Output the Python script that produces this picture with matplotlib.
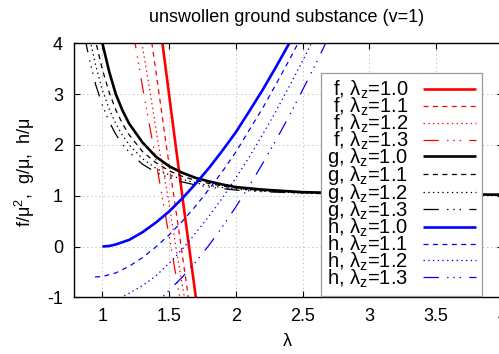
import matplotlib
matplotlib.use("Agg")
import matplotlib.pyplot as plt

# f / mu^2 curves (red)
f10_lam = [1.44, 1.45, 1.532, 1.62, 1.70, 1.71]
f10_val = [4.2, 4.0, 2.33, 0.57, -1.0, -1.2]
f11_lam = [1.36, 1.425, 1.478, 1.535, 1.59, 1.655]
f11_val = [4.2, 3.0, 2.0, 1.0, 0.0, -1.2]
f12_lam = [1.283, 1.36, 1.42, 1.49, 1.55, 1.627]
f12_val = [4.2, 3.0, 2.0, 1.0, 0.0, -1.2]
f13_lam = [1.232, 1.31, 1.38, 1.46, 1.52, 1.593]
f13_val = [4.2, 3.0, 2.0, 0.8, -0.1, -1.2]

# g / mu curves (black)
g10_lam = [0.99, 1.0, 1.05, 1.1, 1.15, 1.2, 1.3, 1.4, 1.5, 1.6, 1.7, 1.8, 1.9, 2.0, 2.2, 2.5, 3.0, 3.5, 4.0]
g10_val = [4.15, 4.0, 3.45, 3.0, 2.68, 2.42, 2.05, 1.77, 1.58, 1.45, 1.35, 1.28, 1.22, 1.17, 1.12, 1.07, 1.04, 1.03, 1.02]
g11_lam = [0.945, 0.953, 1.0, 1.05, 1.1, 1.15, 1.2, 1.3, 1.4, 1.5, 1.6, 1.7, 1.8, 1.9, 2.0, 2.2, 2.5, 3.0, 3.5, 4.0]
g11_val = [4.15, 4.0, 3.48, 3.04, 2.69, 2.42, 2.20, 1.87, 1.65, 1.49, 1.38, 1.30, 1.24, 1.19, 1.15, 1.10, 1.06, 1.03, 1.02, 1.01]
g12_lam = [0.905, 0.913, 0.95, 1.0, 1.05, 1.1, 1.15, 1.2, 1.3, 1.4, 1.5, 1.6, 1.7, 1.8, 1.9, 2.0, 2.2, 2.5, 3.0, 3.5, 4.0]
g12_val = [4.15, 4.0, 3.56, 3.08, 2.71, 2.42, 2.19, 2.00, 1.73, 1.54, 1.41, 1.32, 1.25, 1.20, 1.16, 1.13, 1.09, 1.05, 1.03, 1.01, 1.01]
g13_lam = [0.87, 0.877, 0.9, 0.95, 1.0, 1.05, 1.1, 1.15, 1.2, 1.3, 1.4, 1.5, 1.6, 1.7, 1.8, 1.9, 2.0, 2.2, 2.5, 3.0, 3.5, 4.0]
g13_val = [4.12, 4.0, 3.71, 3.18, 2.78, 2.46, 2.21, 2.01, 1.86, 1.62, 1.46, 1.35, 1.27, 1.21, 1.17, 1.14, 1.11, 1.08, 1.05, 1.02, 1.01, 1.01]

# h / mu curves (blue)
h10_lam = [1.0, 1.05, 1.1, 1.2, 1.3, 1.4, 1.5, 1.6, 1.7, 1.8, 1.9, 2.0, 2.1, 2.2, 2.3, 2.4, 2.5]
h10_val = [0.0, 0.01, 0.04, 0.13, 0.28, 0.47, 0.69, 0.95, 1.24, 1.55, 1.89, 2.25, 2.66, 3.08, 3.53, 4.0, 4.5]
h11_lam = [0.945, 1.0, 1.1, 1.2, 1.3, 1.4, 1.5, 1.6, 1.7, 1.8, 1.9, 2.0, 2.1, 2.2, 2.3, 2.4, 2.5]
h11_val = [-0.60, -0.59, -0.52, -0.39, -0.22, -0.01, 0.23, 0.50, 0.80, 1.13, 1.48, 1.86, 2.29, 2.72, 3.19, 3.67, 4.17]
h12_lam = [1.0, 1.1, 1.2, 1.3, 1.4, 1.5, 1.6, 1.7, 1.8, 1.9, 2.0, 2.1, 2.2, 2.3, 2.4, 2.5, 2.6]
h12_val = [-1.15, -1.06, -0.92, -0.77, -0.58, -0.33, -0.05, 0.27, 0.60, 0.96, 1.35, 1.76, 2.20, 2.66, 3.15, 3.65, 4.18]
h13_lam = [1.3, 1.4, 1.5, 1.6, 1.7, 1.8, 1.9, 2.0, 2.1, 2.2, 2.3, 2.4, 2.5, 2.6, 2.7]
h13_val = [-1.40, -1.13, -0.86, -0.60, -0.30, 0.03, 0.39, 0.78, 1.19, 1.63, 2.09, 2.57, 3.08, 3.60, 4.15]

lamz_labels = ["1.0", "1.1", "1.2", "1.3"]
x_ticks = [1, 1.5, 2, 2.5, 3, 3.5, 4]
y_ticks = [-1, 0, 1, 2, 3, 4]


def main():
    plt.rcParams["font.family"] = ["Liberation Sans", "DejaVu Sans"]
    plt.rcParams["mathtext.fontset"] = "custom"
    plt.rcParams["mathtext.rm"] = "Liberation Sans"
    plt.rcParams["mathtext.it"] = "Liberation Sans:italic"
    plt.rcParams["lines.scale_dashes"] = False
    plt.rcParams["axes.unicode_minus"] = False
    fs = 13
    leg_fs = 14.5

    # gnuplot-like dash types: solid, dashed, dotted, dash-dot-dot-dot
    styles = [
        dict(lw=1.9, ls="-"),
        dict(lw=0.9, ls=(0, (3.6, 3.2))),
        dict(lw=0.9, ls=(0, (1.0, 2.4))),
        dict(lw=0.9, ls=(0, (11, 6, 1, 3.5, 1, 3.5, 1, 6))),
    ]

    fig = plt.figure(figsize=(4.99, 3.54), dpi=100)
    W, H = 499.0, 354.0
    ax = fig.add_axes([74 / W, 1 - 297.3 / H, (502.7 - 74) / W, (297.3 - 43.3) / H])

    families = [
        ("f", "red", [(f10_lam, f10_val), (f11_lam, f11_val), (f12_lam, f12_val), (f13_lam, f13_val)]),
        ("g", "black", [(g10_lam, g10_val), (g11_lam, g11_val), (g12_lam, g12_val), (g13_lam, g13_val)]),
        ("h", "blue", [(h10_lam, h10_val), (h11_lam, h11_val), (h12_lam, h12_val), (h13_lam, h13_val)]),
    ]
    for name, color, curves in families:
        for i, (x, y) in enumerate(curves):
            ax.plot(x, y, color=color, label=name + r", λ$_\mathrm{z}$=" + lamz_labels[i],
                    solid_capstyle="butt", dash_capstyle="butt", **styles[i])

    ax.set_xlim(0.787, 4.0)
    ax.set_ylim(-1, 4)
    ax.set_xticks(x_ticks)
    ax.set_xticklabels(["1", "1.5", "2", "2.5", "3", "3.5", "4"])
    ax.set_yticks(y_ticks)
    ax.tick_params(direction="in", top=True, right=True, length=4, width=0.8, labelsize=fs)
    ax.tick_params(axis="x", pad=8)
    ax.tick_params(axis="y", pad=8)
    ax.grid(True, color="#bbbbbb", linestyle=(0, (1, 2)), linewidth=0.6)
    for sp in ax.spines.values():
        sp.set_linewidth(1.0)

    leg = ax.legend(loc="upper left", bbox_to_anchor=(321 / W, 1 - 73 / H), bbox_transform=fig.transFigure,
                    borderaxespad=0, markerfirst=False, fontsize=leg_fs, handlelength=2.6, handletextpad=0.75,
                    labelspacing=-0.27, borderpad=0.3, fancybox=False, framealpha=1)
    leg.get_frame().set_edgecolor("#999999")
    leg.get_frame().set_linewidth(0.9)

    fig.text(287 / W, 1 - 17 / H, "unswollen ground substance (v=1)", ha="center", va="center", fontsize=fs)
    fig.text(287 / W, 1 - 342 / H, "λ", ha="center", va="center", fontsize=fs)
    fig.text(25 / W, 1 - 172 / H, r"f/μ$^\mathrm{2}$,  g/μ,  h/μ", ha="center", va="center",
             rotation=90, fontsize=fs)

    fig.savefig("out.png", dpi=100)
    plt.close()


if __name__ == "__main__":
    main()
